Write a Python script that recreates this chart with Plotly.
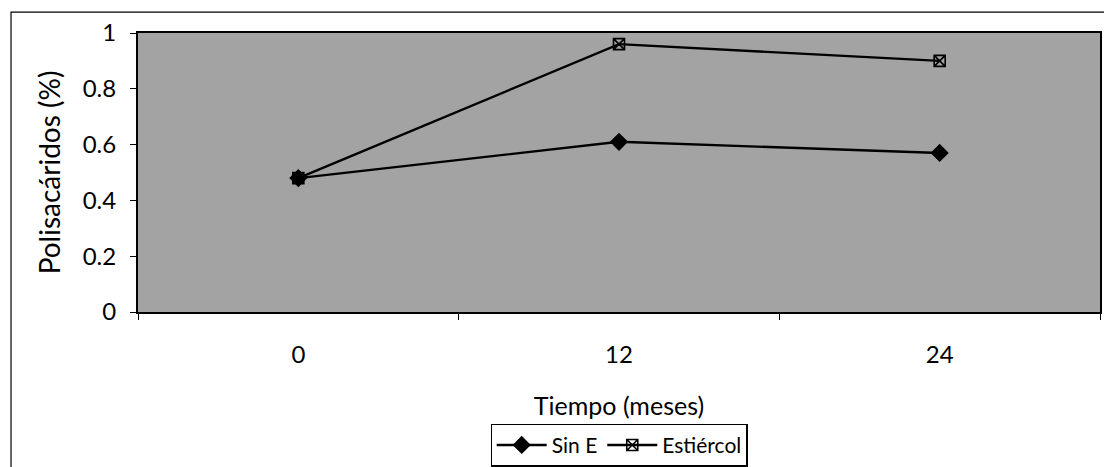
import plotly.graph_objects as go

# Polysaccharide content over time, with and without manure
meses = ["0", "12", "24"]
sin_e = [0.48, 0.61, 0.57]
estiercol = [0.48, 0.96, 0.90]

FONT = "Lato"

fig = go.Figure()
fig.add_trace(go.Scatter(
    x=meses, y=sin_e, name="Sin E", mode="lines+markers",
    line=dict(color="black", width=2.4),
    marker=dict(symbol="diamond", size=14, color="black"),
))
fig.add_trace(go.Scatter(
    x=meses, y=estiercol, name="Estiércol", mode="lines+markers",
    line=dict(color="black", width=2.4),
    marker=dict(symbol="square-x-open", size=11, color="black",
                line=dict(width=1.6, color="black")),
))

# outer chart frame
fig.add_shape(type="rect", xref="paper", yref="paper",
              x0=-0.132, x1=1.02, y0=-0.7, y1=1.075,
              line=dict(color="black", width=1.2), fillcolor="rgba(0,0,0,0)",
              layer="below")

fig.update_layout(
    width=1104, height=467,
    margin=dict(l=138, r=4, t=33, b=155, autoexpand=False),
    paper_bgcolor="white",
    plot_bgcolor="#a3a3a3",
    font=dict(family=FONT, size=24, color="black"),
    showlegend=True,
    legend=dict(
        orientation="h", x=0.5, xanchor="center", y=-0.40, yanchor="top",
        bordercolor="black", borderwidth=1.2, bgcolor="white",
        font=dict(family=FONT, size=21), itemwidth=50,
        tracegroupgap=0,
    ),
    xaxis=dict(
        type="category", range=[-0.5, 2.5], automargin=False,
        showline=True, linecolor="black", linewidth=2, mirror=True,
        ticks="outside", tickson="boundaries", ticklen=6, tickcolor="black",
        ticklabelstandoff=20,
        showgrid=False, zeroline=False,
        tickfont=dict(size=24),
        title=dict(text="Tiempo (meses)", font=dict(size=25), standoff=31),
    ),
    yaxis=dict(
        range=[0, 1], tickvals=[0, 0.2, 0.4, 0.6, 0.8, 1],
        ticktext=["0", "0.2", "0.4", "0.6", "0.8", "1"], automargin=False,
        showline=True, linecolor="black", linewidth=2, mirror=True,
        ticks="outside", ticklen=6, tickcolor="black",
        ticklabelstandoff=9,
        showgrid=False, zeroline=False,
        tickfont=dict(size=24),
        title=dict(text="Polisacáridos (%)", font=dict(size=28), standoff=14),
    ),
)

fig.write_html("out.html")
